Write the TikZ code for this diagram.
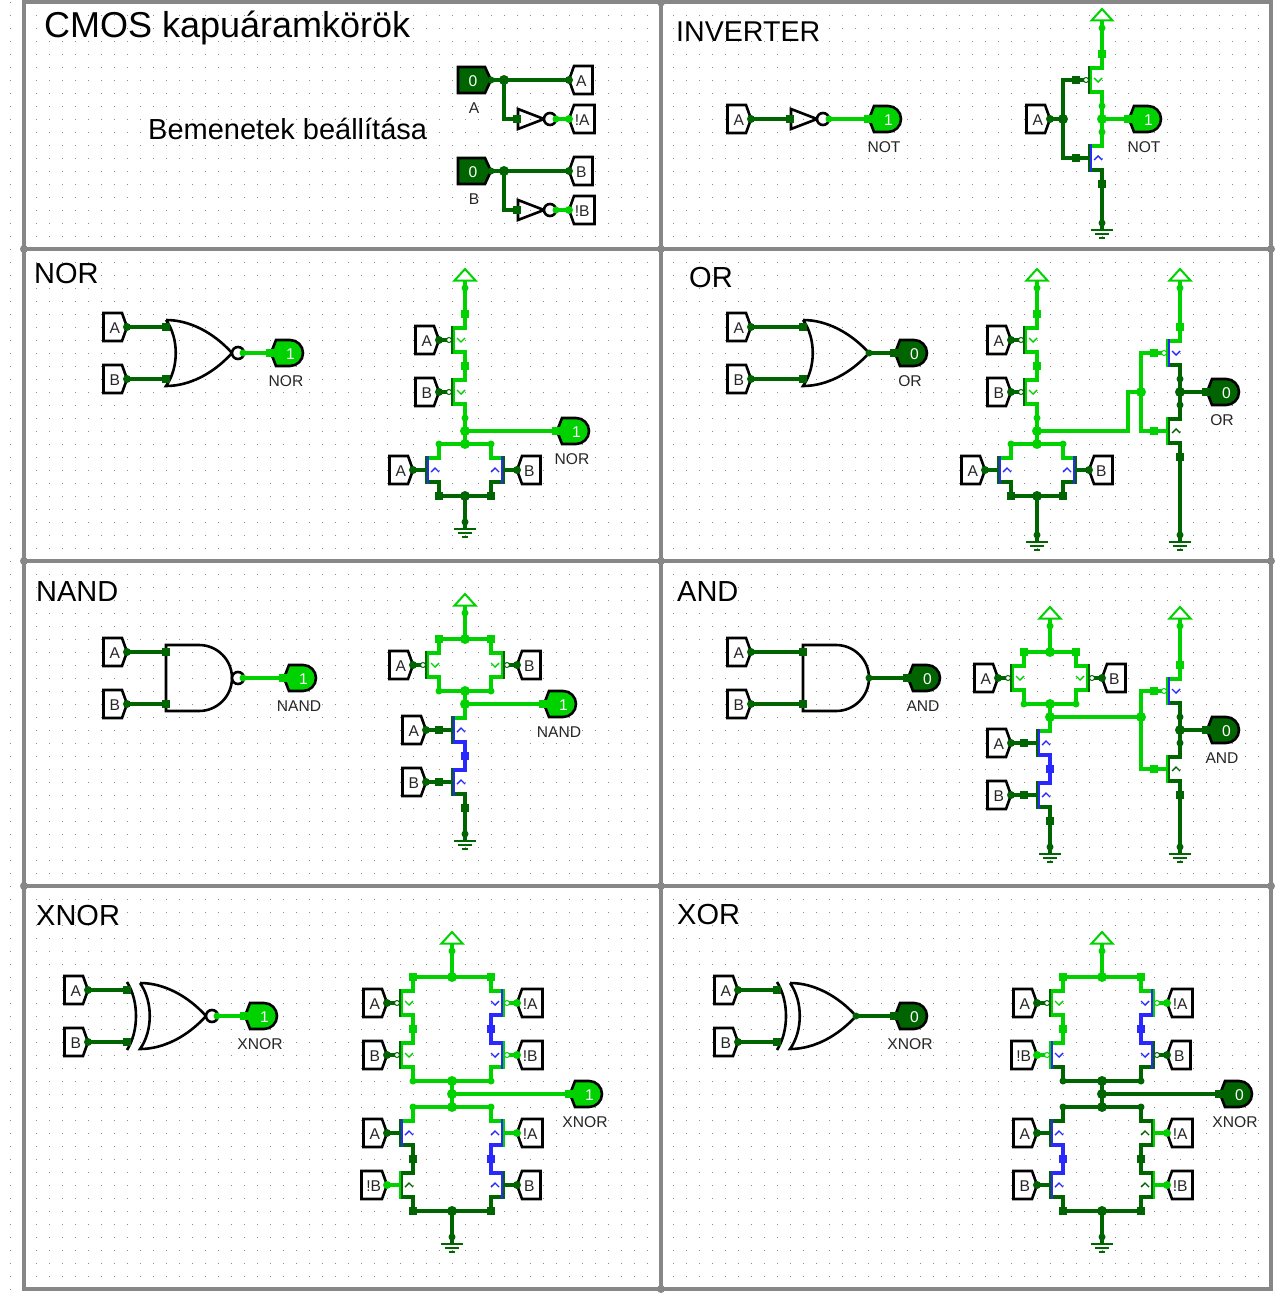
\documentclass[tikz,border=0pt]{standalone}
\usepackage{fontspec}
\setmainfont{Liberation Sans}

\definecolor{won}{RGB}{0,210,0}
\definecolor{woff}{RGB}{0,100,0}
\definecolor{wfl}{RGB}{40,40,255}
\definecolor{frm}{RGB}{135,135,135}

\tikzset{
	wire/.style={line width=3.9pt,draw=#1},
	outline/.style={line width=2.6pt,draw=black,line join=miter},
	griddot/.style={draw=gray!90,line width=1pt,dash pattern=on 1pt off 12pt,dash phase=11pt},
	frame/.style={draw=frm,line width=4pt},
	head/.style={font=\fontsize{29}{34}\selectfont,anchor=base west,inner sep=0pt},
	lab/.style={font=\fontsize{15.6}{18}\selectfont,inner sep=0pt,text=black!85}
}

\newcommand{\pdot}[2]{\foreach \pnt in {#1} \fill[#2] (\pnt) circle [radius=3.5];}
\newcommand{\pjunc}[2]{\foreach \pnt in {#1} \fill[#2] (\pnt) circle [radius=5];}
\newcommand{\psq}[2]{\foreach \pnt in {#1} \fill[#2,shift={(\pnt)}] (-4,-4) rectangle (4,4);}

\newcommand{\tunnel}[7]{
	\begin{scope}[shift={(#2,#3)},xscale=#4]
		\coordinate (#1) at (0,0);
		\draw[outline,fill=white] (0,0) -- (5,-14) -- (5+#6,-14) -- (5+#6,14) -- (5,14) -- cycle;
		\node[lab] (#1-l) at (3+#6/2,1) {#5};
		\fill[#7] (0,0) circle [radius=4];
	\end{scope}
}
\newcommand{\inpin}[6]{
	\begin{scope}[shift={(#2,#3)}]
		\coordinate (#1) at (33,0);
		\draw[outline,fill=#4] (0,-13) -- (27,-13) -- (33,0) -- (27,13) -- (0,13) -- cycle;
		\node[lab,text=white] (#1-v) at (15,1) {#5};
		\node[lab] (#1-l) at (16,28) {#6};
	\end{scope}
}
\newcommand{\outpin}[6]{
	\begin{scope}[shift={(#2,#3)}]
		\coordinate (#1) at (0,0);
		\draw[outline,fill=#4] (1,0) -- (6,-13) -- (20,-13) arc[start angle=-90,end angle=90,radius=13] -- (6,13) -- cycle;
		\node[lab,text=white] (#1-v) at (20.5,0.8) {#5};
		\node[lab] (#1-l) at (16,28) {#6};
		\fill[#4] (-4,-4) rectangle (4,4);
	\end{scope}
}
\newcommand{\power}[3]{
	\coordinate (#1) at (#2,#3);
	\begin{scope}[shift={(#2,#3)}]
		\draw[wire=won] (0,0) -- (0,-7);
		\draw[draw=won,line width=2pt,fill=white] (0,-19) -- (10.5,-7.5) -- (-10.5,-7.5) -- cycle;
		\fill[won] (0,0) circle [radius=3.5];
	\end{scope}
}
\newcommand{\ground}[3]{
	\coordinate (#1) at (#2,#3);
	\begin{scope}[shift={(#2,#3)}]
		\draw[wire=woff] (0,0) -- (0,7);
		\draw[woff,line width=2pt] (-11,7) -- (11,7) (-7,11) -- (7,11) (-3,15) -- (3,15);
		\fill[woff] (0,0) circle [radius=3.5];
	\end{scope}
}
\newcommand{\mosbody}[5]{
	\coordinate (#1-g) at (-26,0);
	\coordinate (#1-t) at (0,-26);
	\coordinate (#1-b) at (0,26);
	\draw[wire=#3] (0,-10.4) -- (0,-26);
	\draw[wire=#4] (0,10.4) -- (0,26);
	\draw[#3,line width=3.2pt] (-10.5,-12) -- (1.95,-12);
	\draw[#4,line width=3.2pt] (-10.5,12) -- (1.95,12);
	\draw[#2,line width=1.6pt] (-13,-14) -- (-13,14);
	\draw[#5,line width=1.6pt] (-11,-14) -- (-11,14);
}
\newcommand{\pmos}[8]{
	\begin{scope}[shift={(#2,#3)},xscale=#4]
		\mosbody{#1}{#5}{#6}{#7}{#8}
		\draw[wire=#5] (-26,0) -- (-18,0);
		\draw[#5,fill=white,line width=1pt] (-16,0) circle [radius=2.5];
		\draw[#8,line width=1.4pt] (-8,-2) -- (-4,2) -- (0,-2);
	\end{scope}
}
\newcommand{\nmos}[8]{
	\begin{scope}[shift={(#2,#3)},xscale=#4]
		\mosbody{#1}{#5}{#6}{#7}{#8}
		\draw[wire=#5] (-26,0) -- (-13,0);
		\draw[#8,line width=1.4pt] (-8,2) -- (-4,-2) -- (0,2);
	\end{scope}
}
\newcommand{\notgate}[3]{
	\begin{scope}[shift={(#2,#3)}]
		\coordinate (#1-i) at (0,0);
		\coordinate (#1-o) at (39,0);
		\draw[outline] (1,-10) -- (27,0) -- (1,10) -- cycle;
		\draw[outline,fill=white] (33,0) circle [radius=6];
	\end{scope}
}
\newcommand{\orgate}[3]{
	\begin{scope}[shift={(#2,#3)}]
		\coordinate (#1-a) at (0,-26);
		\coordinate (#1-b) at (0,26);
		\coordinate (#1-o) at (66,0);
		\draw[outline] (0,-33) .. controls (24,-33) and (48,-20) .. (66,0) .. controls (48,20) and (24,33) .. (0,33) .. controls (13,15) and (13,-15) .. (0,-33);
	\end{scope}
}
\newcommand{\andgate}[3]{
	\begin{scope}[shift={(#2,#3)}]
		\coordinate (#1-a) at (0,-26);
		\coordinate (#1-b) at (0,26);
		\coordinate (#1-o) at (66,0);
		\draw[outline] (0,-33) -- (0,33) -- (33,33) arc[start angle=90,end angle=-90,radius=33] -- cycle;
	\end{scope}
}
\newcommand{\xorgate}[3]{
	\orgate{#1-f}{#2+13}{#3}
	\begin{scope}[shift={(#2,#3)}]
		\coordinate (#1-a) at (0,-26);
		\coordinate (#1-b) at (0,26);
		\draw[outline] (0,-34) .. controls (12,-15) and (12,15) .. (0,34);
	\end{scope}
}
\newcommand{\bubble}[3]{
	\begin{scope}[shift={(#2,#3)}]
		\coordinate (#1) at (11,0);
		\draw[outline,fill=white] (6,0) circle [radius=6];
	\end{scope}
}
\newcommand{\norstack}[3]{
	\power{#1-v}{#2}{288}
	\pmos{#1-pa}{#2}{340}{1}{woff}{won}{won}{won}
	\pmos{#1-pb}{#2}{392}{1}{woff}{won}{won}{won}
	\nmos{#1-na}{#2-26}{470}{1}{woff}{won}{woff}{wfl}
	\nmos{#1-nb}{#2+26}{470}{-1}{woff}{won}{woff}{wfl}
	\tunnel{#1-ta}{#2-26}{340}{-1}{A}{18.5}{woff}
	\tunnel{#1-tb}{#2-26}{392}{-1}{B}{18.5}{woff}
	\tunnel{#1-tc}{#2-52}{470}{-1}{A}{18.5}{woff}
	\tunnel{#1-td}{#2+52}{470}{1}{B}{18.5}{woff}
	\ground{#1-g}{#2}{#3}
	\coordinate (#1-o) at (#2,431);
	\coordinate (#1-s) at (#2,444);
	\coordinate (#1-u) at (#2,496);
	\draw[wire=won] (#1-v) -- (#1-pa-t) (#1-pa-b) -- (#1-pb-t) (#1-pb-b) -- (#1-s) (#1-na-t) -- (#1-nb-t);
	\draw[wire=woff] (#1-na-b) -- (#1-nb-b) (#1-u) -- (#1-g);
	\psq{#1-pa-t,#1-pa-b}{won}
	\pdot{#1-pb-b,#1-na-t,#1-nb-t}{won}
	\pjunc{#1-o,#1-s}{won}
	\psq{#1-na-b,#1-nb-b}{woff}
	\pjunc{#1-u}{woff}
}
\newcommand{\nandstack}[3]{
	\power{#1-v}{#2}{613+#3}
	\pmos{#1-pa}{#2-26}{665+#3}{1}{woff}{won}{won}{won}
	\pmos{#1-pb}{#2+26}{665+#3}{-1}{woff}{won}{won}{won}
	\nmos{#1-na}{#2}{730+#3}{1}{woff}{won}{wfl}{wfl}
	\nmos{#1-nb}{#2}{782+#3}{1}{woff}{wfl}{woff}{wfl}
	\tunnel{#1-ta}{#2-52}{665+#3}{-1}{A}{18.5}{woff}
	\tunnel{#1-tb}{#2+52}{665+#3}{1}{B}{18.5}{woff}
	\tunnel{#1-tc}{#2-39}{730+#3}{-1}{A}{18.5}{woff}
	\tunnel{#1-td}{#2-39}{782+#3}{-1}{B}{18.5}{woff}
	\ground{#1-g}{#2}{834+#3}
	\coordinate (#1-s) at (#2,639+#3);
	\coordinate (#1-u) at (#2,691+#3);
	\coordinate (#1-o) at (#2,704+#3);
	\draw[wire=won] (#1-v) -- (#1-s) (#1-pa-t) -- (#1-pb-t) (#1-pa-b) -- (#1-pb-b) (#1-u) -- (#1-na-t);
	\draw[wire=wfl] (#1-na-b) -- (#1-nb-t);
	\draw[wire=woff] (#1-nb-b) -- (#1-g) (#1-tc) -- (#1-na-g) (#1-td) -- (#1-nb-g);
	\psq{#1-pa-t,#1-pb-t}{won}
	\pdot{#1-pa-b,#1-pb-b}{won}
	\pjunc{#1-s,#1-u,#1-o}{won}
	\psq{#1-na-g,#1-nb-g,#1-nb-b}{woff}
	\psq{#1-na-b}{wfl}
}
\newcommand{\invstage}[6]{
	\power{#1-v}{#2}{#3-65}
	\pmos{#1-p}{#2}{#3}{1}{won}{won}{woff}{wfl}
	\nmos{#1-n}{#2}{#3+78}{1}{won}{woff}{woff}{woff}
	\ground{#1-g}{#2}{#5}
	\coordinate (#1-j) at (#2-39,#4);
	\coordinate (#1-o) at (#2,#3+39);
	\outpin{#1-q}{#2+26}{#3+39}{woff}{0}{#6}
	\draw[wire=won] (#1-p-g) -| (#1-j) |- (#1-n-g) (#1-v) -- (#1-p-t);
	\draw[wire=woff] (#1-p-b) -- (#1-n-t) (#1-o) -- (#1-q) (#1-n-b) -- (#1-g);
	\psq{#1-p-g,#1-n-g,#1-p-t}{won}
	\psq{#1-n-b}{woff}
	\pdot{#1-p-b,#1-n-t}{woff}
	\pjunc{#1-o}{woff}
	\pjunc{#1-j}{won}
}
\newcommand{\xbus}[3]{
	\power{#1-v}{#2}{951}
	\ground{#1-g}{#2}{1237}
	\coordinate (#1-s) at (#2,977);
	\coordinate (#1-m) at (#2,1081);
	\coordinate (#1-o) at (#2,1094);
	\coordinate (#1-n) at (#2,1107);
	\coordinate (#1-u) at (#2,1211);
	\draw[wire=won] (#1-v) -- (#1-s) (#1-a-t) -- (#1-c-t);
	\draw[wire=#3] (#1-b-b) -- (#1-d-b) (#1-e-t) -- (#1-h-t) (#1-m) -- (#1-n);
	\draw[wire=woff] (#1-f-b) -- (#1-i-b) (#1-u) -- (#1-g);
	\psq{#1-a-t,#1-c-t}{won}
	\pjunc{#1-s}{won}
	\pdot{#1-b-b,#1-d-b,#1-e-t,#1-h-t}{#3}
	\pjunc{#1-m,#1-o,#1-n}{#3}
	\psq{#1-f-b,#1-i-b}{woff}
	\pjunc{#1-u}{woff}
}

\begin{document}
\begin{tikzpicture}[x=1pt,y=-1pt]
	\useasboundingbox (0,0) rectangle (1282,1298);
	\fill[white] (0,0) rectangle (1282,1298);
	\foreach \x in {10,23,...,1271} \draw[griddot] (\x.5,0) -- (\x.5,1298);
	\draw[frame] (24,2.5) rectangle (1271,1289);
	\draw[frame] (661,2.5) -- (661,1289);
	\foreach \y in {249,561,886} \draw[frame] (24,\y) -- (1271,\y);
	\foreach \y in {249,561,886} \foreach \x in {24,661,1271} \fill[frm] (\x,\y) circle [radius=4];
	\fill[frm] (661,1289) circle [radius=4];
	\fill[frm] (661,2.5) circle [radius=4];

	\node[head,font=\fontsize{36}{42}\selectfont] (title) at (44,38) {CMOS kapuáramkörök};
	\node[head] (setup) at (148,139) {Bemenetek beállítása};
	\inpin{ina}{458}{80}{woff}{0}{A}
	\inpin{inb}{458}{171}{woff}{0}{B}
	\notgate{ina-n}{517}{119}
	\notgate{inb-n}{517}{210}
	\tunnel{ta}{569}{80}{1}{A}{18.5}{woff}
	\tunnel{tna}{569}{119}{1}{!A}{20.5}{won}
	\tunnel{tb}{569}{171}{1}{B}{18.5}{woff}
	\tunnel{tnb}{569}{210}{1}{!B}{20.5}{won}
	\coordinate (ina-j) at (504,80);
	\coordinate (inb-j) at (504,171);
	\draw[wire=woff] (ina) -- (ta) (ina-j) |- (ina-n-i) (inb) -- (tb) (inb-j) |- (inb-n-i);
	\draw[wire=won] (ina-n-o) -- (tna) (inb-n-o) -- (tnb);
	\psq{ina-n-i,inb-n-i}{woff}
	\pjunc{ina-j,inb-j}{woff}
	\pdot{ina,inb}{woff}
	\pdot{ina-n-o,inb-n-o}{won}

	\node[head,font=\fontsize{28.6}{34}\selectfont] (invhead) at (676,42) {INVERTER};
	\tunnel{inv-a}{751}{119}{-1}{A}{18.5}{woff}
	\notgate{inv-n}{790}{119}
	\outpin{inv-q}{868}{119}{won}{1}{NOT}
	\draw[wire=woff] (inv-a) -- (inv-n-i);
	\draw[wire=won] (inv-n-o) -- (inv-q);
	\psq{inv-n-i}{woff}
	\pdot{inv-n-o}{won}
	\tunnel{cinv-a}{1050}{119}{-1}{A}{18.5}{woff}
	\power{cinv-v}{1102}{28}
	\pmos{cinv-p}{1102}{80}{1}{woff}{won}{won}{won}
	\nmos{cinv-n}{1102}{158}{1}{woff}{won}{woff}{wfl}
	\ground{cinv-g}{1102}{223}
	\outpin{cinv-q}{1128}{119}{won}{1}{NOT}
	\coordinate (cinv-j) at (1063,119);
	\coordinate (cinv-o) at (1102,119);
	\draw[wire=woff] (cinv-a) -- (cinv-j) (cinv-p-g) -| (cinv-j) |- (cinv-n-g) (cinv-n-b) -- (cinv-g);
	\draw[wire=won] (cinv-v) -- (cinv-p-t) (cinv-p-b) -- (cinv-n-t) (cinv-o) -- (cinv-q);
	\psq{cinv-p-g,cinv-n-g,cinv-n-b}{woff}
	\psq{cinv-p-t}{won}
	\pdot{cinv-p-b,cinv-n-t}{won}
	\pjunc{cinv-o}{won}
	\pjunc{cinv-j}{woff}

	\node[head] (norhead) at (34,283.5) {NOR};
	\tunnel{nor-a}{127}{327}{-1}{A}{18.5}{woff}
	\tunnel{nor-b}{127}{379}{-1}{B}{18.5}{woff}
	\orgate{nor-l}{166}{353}
	\bubble{nor-k}{232}{353}
	\outpin{nor-q}{270}{353}{won}{1}{NOR}
	\draw[wire=woff] (nor-a) -- (nor-l-a) (nor-b) -- (nor-l-b);
	\draw[wire=won] (nor-k) -- (nor-q);
	\psq{nor-l-a,nor-l-b}{woff}
	\pdot{nor-k}{won}
	\norstack{cnor}{465}{522}
	\outpin{cnor-q}{556}{431}{won}{1}{NOR}
	\draw[wire=won] (cnor-o) -- (cnor-q);

	\node[head] (orhead) at (689,287.5) {OR};
	\tunnel{or-a}{751}{327}{-1}{A}{18.5}{woff}
	\tunnel{or-b}{751}{379}{-1}{B}{18.5}{woff}
	\orgate{or-l}{803}{353}
	\outpin{or-q}{894}{353}{woff}{0}{OR}
	\draw[wire=woff] (or-a) -- (or-l-a) (or-b) -- (or-l-b) (or-l-o) -- (or-q);
	\psq{or-l-a,or-l-b}{woff}
	\pdot{or-l-o}{woff}
	\norstack{cor}{1037}{535}
	\invstage{cor2}{1180}{353}{392}{535}{OR}
	\coordinate (cor-e) at (1128,431);
	\draw[wire=won] (cor-o) -- (cor-e) |- (cor2-j);

	\node[head] (nandhead) at (36,601.5) {NAND};
	\tunnel{nand-a}{127}{652}{-1}{A}{18.5}{woff}
	\tunnel{nand-b}{127}{704}{-1}{B}{18.5}{woff}
	\andgate{nand-l}{166}{678}
	\bubble{nand-k}{232}{678}
	\outpin{nand-q}{283}{678}{won}{1}{NAND}
	\draw[wire=woff] (nand-a) -- (nand-l-a) (nand-b) -- (nand-l-b);
	\draw[wire=won] (nand-k) -- (nand-q);
	\psq{nand-l-a,nand-l-b}{woff}
	\pdot{nand-k}{won}
	\nandstack{cnand}{465}{0}
	\outpin{cnand-q}{543}{704}{won}{1}{NAND}
	\draw[wire=won] (cnand-o) -- (cnand-q);

	\node[head] (andhead) at (677,601.5) {AND};
	\tunnel{and-a}{751}{652}{-1}{A}{18.5}{woff}
	\tunnel{and-b}{751}{704}{-1}{B}{18.5}{woff}
	\andgate{and-l}{803}{678}
	\outpin{and-q}{907}{678}{woff}{0}{AND}
	\draw[wire=woff] (and-a) -- (and-l-a) (and-b) -- (and-l-b) (and-l-o) -- (and-q);
	\psq{and-l-a,and-l-b}{woff}
	\pdot{and-l-o}{woff}
	\nandstack{cand}{1050}{13}
	\invstage{cand2}{1180}{691}{717}{847}{AND}
	\draw[wire=won] (cand-o) -- (cand2-j);

	\node[head] (xnorhead) at (36,925.5) {XNOR};
	\tunnel{xnor-a}{88}{990}{-1}{A}{18.5}{woff}
	\tunnel{xnor-b}{88}{1042}{-1}{B}{18.5}{woff}
	\xorgate{xnor-l}{127}{1016}
	\bubble{xnor-k}{206}{1016}
	\outpin{xnor-q}{244}{1016}{won}{1}{XNOR}
	\draw[wire=woff] (xnor-a) -- (xnor-l-a) (xnor-b) -- (xnor-l-b);
	\draw[wire=won] (xnor-k) -- (xnor-q);
	\psq{xnor-l-a,xnor-l-b}{woff}
	\pdot{xnor-k}{won}
	\pmos{cxn-a}{413}{1003}{1}{woff}{won}{won}{won}
	\pmos{cxn-b}{413}{1055}{1}{woff}{won}{won}{won}
	\pmos{cxn-c}{491}{1003}{-1}{won}{won}{wfl}{wfl}
	\pmos{cxn-d}{491}{1055}{-1}{won}{wfl}{won}{wfl}
	\nmos{cxn-e}{413}{1133}{1}{woff}{won}{woff}{wfl}
	\nmos{cxn-f}{413}{1185}{1}{won}{woff}{woff}{woff}
	\nmos{cxn-h}{491}{1133}{-1}{won}{won}{wfl}{wfl}
	\nmos{cxn-i}{491}{1185}{-1}{woff}{wfl}{woff}{wfl}
	\tunnel{cxn-t1}{387}{1003}{-1}{A}{18.5}{woff}
	\tunnel{cxn-t2}{387}{1055}{-1}{B}{18.5}{woff}
	\tunnel{cxn-t3}{517}{1003}{1}{!A}{20.5}{won}
	\tunnel{cxn-t4}{517}{1055}{1}{!B}{20.5}{won}
	\tunnel{cxn-t5}{387}{1133}{-1}{A}{18.5}{woff}
	\tunnel{cxn-t6}{387}{1185}{-1}{!B}{20.5}{won}
	\tunnel{cxn-t7}{517}{1133}{1}{!A}{20.5}{won}
	\tunnel{cxn-t8}{517}{1185}{1}{B}{18.5}{woff}
	\xbus{cxn}{452}{won}
	\psq{cxn-a-b}{won}
	\psq{cxn-c-b,cxn-h-b}{wfl}
	\psq{cxn-e-b}{woff}
	\outpin{cxn-q}{569}{1094}{won}{1}{XNOR}
	\draw[wire=won] (cxn-o) -- (cxn-q);

	\node[head] (xorhead) at (677,924.5) {XOR};
	\tunnel{xor-a}{738}{990}{-1}{A}{18.5}{woff}
	\tunnel{xor-b}{738}{1042}{-1}{B}{18.5}{woff}
	\xorgate{xor-l}{777}{1016}
	\outpin{xor-q}{894}{1016}{woff}{0}{XNOR}
	\draw[wire=woff] (xor-a) -- (xor-l-a) (xor-b) -- (xor-l-b) (xor-l-f-o) -- (xor-q);
	\psq{xor-l-a,xor-l-b}{woff}
	\pdot{xor-l-f-o}{woff}
	\pmos{cxr-a}{1063}{1003}{1}{woff}{won}{won}{won}
	\pmos{cxr-b}{1063}{1055}{1}{won}{won}{woff}{wfl}
	\pmos{cxr-c}{1141}{1003}{-1}{won}{won}{wfl}{wfl}
	\pmos{cxr-d}{1141}{1055}{-1}{woff}{wfl}{woff}{wfl}
	\nmos{cxr-e}{1063}{1133}{1}{woff}{woff}{wfl}{wfl}
	\nmos{cxr-f}{1063}{1185}{1}{woff}{wfl}{woff}{wfl}
	\nmos{cxr-h}{1141}{1133}{-1}{won}{woff}{woff}{woff}
	\nmos{cxr-i}{1141}{1185}{-1}{won}{woff}{woff}{woff}
	\tunnel{cxr-t1}{1037}{1003}{-1}{A}{18.5}{woff}
	\tunnel{cxr-t2}{1037}{1055}{-1}{!B}{20.5}{won}
	\tunnel{cxr-t3}{1167}{1003}{1}{!A}{20.5}{won}
	\tunnel{cxr-t4}{1167}{1055}{1}{B}{18.5}{woff}
	\tunnel{cxr-t5}{1037}{1133}{-1}{A}{18.5}{woff}
	\tunnel{cxr-t6}{1037}{1185}{-1}{B}{18.5}{woff}
	\tunnel{cxr-t7}{1167}{1133}{1}{!A}{20.5}{won}
	\tunnel{cxr-t8}{1167}{1185}{1}{!B}{20.5}{won}
	\xbus{cxr}{1102}{woff}
	\psq{cxr-a-b}{won}
	\psq{cxr-c-b,cxr-e-b}{wfl}
	\psq{cxr-h-b}{woff}
	\outpin{cxr-q}{1219}{1094}{woff}{0}{XNOR}
	\draw[wire=woff] (cxr-o) -- (cxr-q);
\end{tikzpicture}
\end{document}
